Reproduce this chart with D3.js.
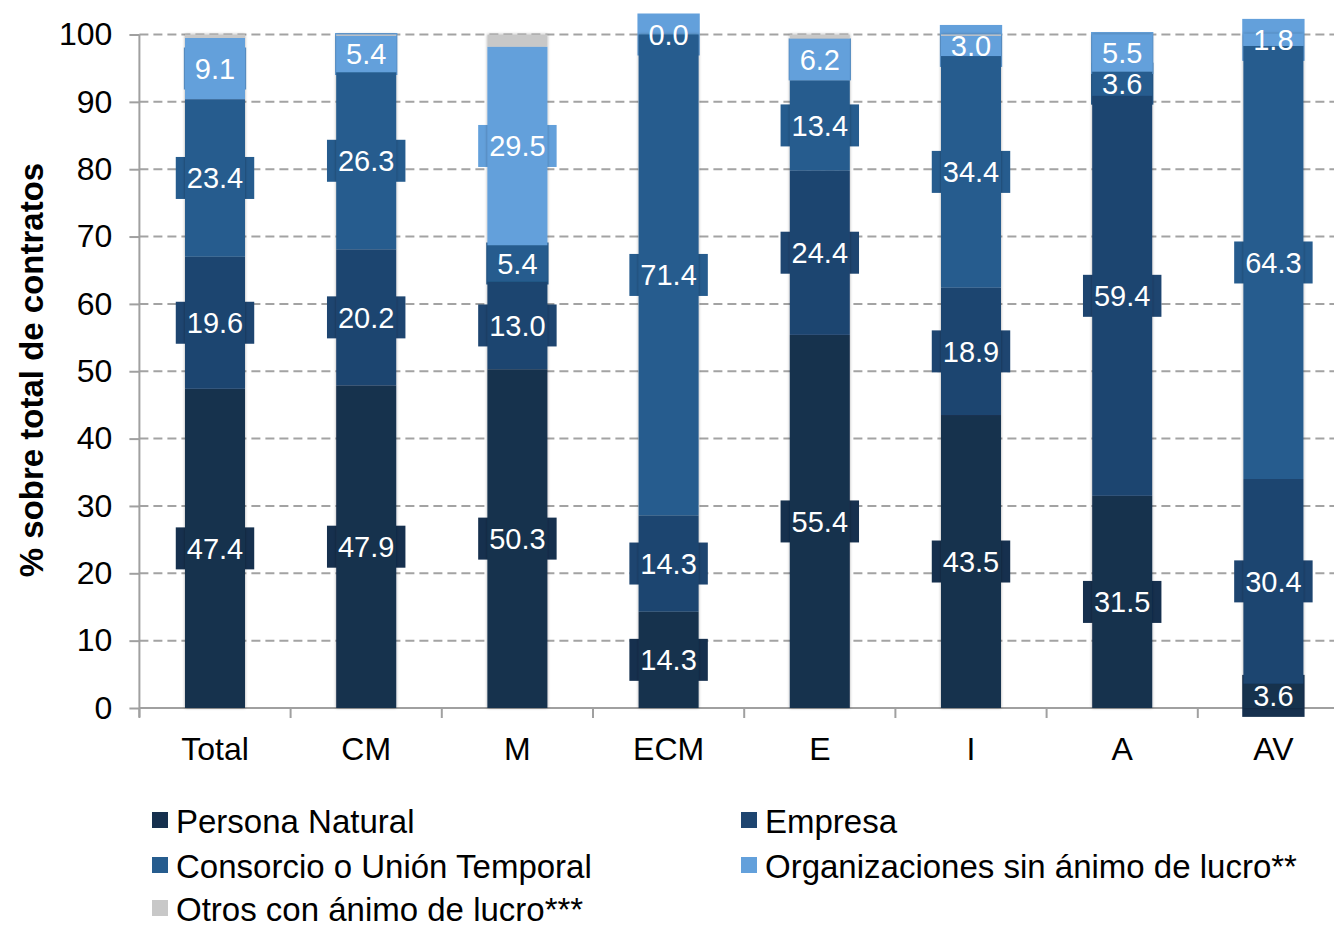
<!DOCTYPE html>
<html>
<head>
<meta charset="utf-8">
<script src="https://cdn.jsdelivr.net/npm/d3@7"></script>
<style>
  html, body { margin: 0; padding: 0; background: #fff; }
  svg { display: block; font-family: "Liberation Sans", Arial, Helvetica, sans-serif; }
</style>
</head>
<body>
<svg id="chart" width="1334" height="925"></svg>
<script>
// ---- data ----
const categories = ["Total", "CM", "M", "ECM", "E", "I", "A", "AV"];
const seriesNames = ["Persona Natural", "Empresa", "Consorcio o Unión Temporal", "Organizaciones sin ánimo de lucro**", "Otros con ánimo de lucro***"];
const personaNatural = [47.4, 47.9, 50.3, 14.3, 55.4, 43.5, 31.5, 3.6];
const empresa        = [19.6, 20.2, 13.0, 14.3, 24.4, 18.9, 59.4, 30.4];
const consorcio      = [23.4, 26.3, 5.4, 71.4, 13.4, 34.4, 3.6, 64.3];
const organizaciones = [9.1, 5.4, 29.5, 0.0, 6.2, 3.0, 5.5, 1.8];
const otros          = [0.5, 0.2, 1.8, 0.0, 0.6, 0.2, 0.0, 0.0];
const yTicks = [0, 10, 20, 30, 40, 50, 60, 70, 80, 90, 100];
const colors = ["#16304e", "#1e4570", "#265c8e", "#63a0db", "#c8c8c8"];
const labeledSeries = [true, true, true, true, false];

const seriesValues = [personaNatural, empresa, consorcio, organizaciones, otros];
const keys = ["pn", "emp", "con", "org", "otr"];
const table = categories.map((c, i) => {
  const row = { cat: c };
  keys.forEach((k, j) => row[k] = seriesValues[j][i]);
  return row;
});

const svg = d3.select("#chart");
const x = d3.scaleBand().domain(categories).range([139.4, 1349]).padding(0);
const y = d3.scaleLinear().domain([0, 100]).range([708, 34.5]);
const barW = 60;
const barX = c => x(c) + x.bandwidth() / 2 - barW / 2;

// defs: shadow
const defs = svg.append("defs");
const f = defs.append("filter").attr("id", "shadow").attr("x", "-20%").attr("y", "-5%").attr("width", "140%").attr("height", "110%");
f.append("feDropShadow").attr("dx", 0).attr("dy", 0).attr("stdDeviation", 1.6).attr("flood-color", "#000").attr("flood-opacity", 0.35);

// gridlines
svg.append("g").selectAll("line").data(yTicks.filter(t => t > 0)).join("line")
  .attr("x1", 139.4).attr("x2", 1334)
  .attr("y1", d => y(d)).attr("y2", d => y(d))
  .attr("stroke", "#a3a3a3").attr("stroke-width", 2).attr("stroke-dasharray", "9,5");

// y axis
const yAxis = svg.append("g").attr("transform", "translate(139.4,0)")
  .call(d3.axisLeft(y).tickValues(yTicks).tickSize(10).tickPadding(17).tickFormat(d3.format("d")));
yAxis.select(".domain").attr("stroke", "#a0a0a0").attr("stroke-width", 2).attr("d", `M0,${y(100)}V${y(0) + 9}`);
yAxis.selectAll(".tick line").attr("stroke", "#a0a0a0").attr("stroke-width", 2);
yAxis.selectAll(".tick text").attr("fill", "#000").style("font-size", "32px").attr("font-family", null);

// x axis
const xg = svg.append("g");
xg.append("line").attr("x1", 139.4).attr("x2", 1334).attr("y1", y(0)).attr("y2", y(0))
  .attr("stroke", "#a0a0a0").attr("stroke-width", 2);
const boundaries = categories.map(c => x(c)).concat([x(categories[categories.length - 1]) + x.step()]);
xg.selectAll("line.tk").data(boundaries.filter(b => b < 1334)).join("line").attr("class", "tk")
  .attr("x1", d => d).attr("x2", d => d).attr("y1", y(0)).attr("y2", y(0) + 10)
  .attr("stroke", "#a0a0a0").attr("stroke-width", 2);
xg.selectAll("text").data(categories).join("text")
  .attr("x", d => x(d) + x.bandwidth() / 2).attr("y", 749).attr("dy", "0.35em")
  .attr("text-anchor", "middle").style("font-size", "32px").attr("fill", "#000").text(d => d);

// stack
const stack = d3.stack().keys(keys)(table);

// label data
const labels = [];
stack.forEach((s, si) => {
  if (!labeledSeries[si]) return;
  s.forEach(d => {
    labels.push({ cat: d.data.cat, v: d.data[s.key], mid: (d[0] + d[1]) / 2, color: colors[si] });
  });
});

const labelFont = 29;
// layer order: label boxes, bars, label texts
const boxG = svg.append("g");
const barsG = svg.append("g");
const textG = svg.append("g");

categories.forEach(c => {
  const g = barsG.append("g").attr("filter", "url(#shadow)");
  stack.forEach((s, si) => {
    const d = s.find(e => e.data.cat === c);
    if (d[1] - d[0] <= 0) return;
    g.append("rect")
      .attr("x", barX(c)).attr("width", barW)
      .attr("y", y(d[1])).attr("height", y(d[0]) - y(d[1]))
      .attr("fill", colors[si]);
  });
});

labels.forEach(l => {
  const t = textG.append("text")
    .attr("x", x(l.cat) + x.bandwidth() / 2).attr("y", y(l.mid)).attr("dy", "0.36em")
    .attr("text-anchor", "middle").attr("fill", "#fff").style("font-size", labelFont + "px")
    .text(d3.format(".1f")(l.v));
  const w = t.node().getComputedTextLength();
  boxG.append("rect")
    .attr("x", x(l.cat) + x.bandwidth() / 2 - w / 2 - 11).attr("width", w + 22)
    .attr("y", y(l.mid) - 21).attr("height", 42)
    .attr("fill", l.color);
});

// axis title
svg.append("text")
  .attr("transform", "translate(31,370) rotate(-90)")
  .attr("text-anchor", "middle").attr("dy", "0.35em")
  .style("font-size", "33px").style("font-weight", "bold").attr("fill", "#000")
  .text("% sobre total de contratos");

// legend
const legendPos = [[152, 821], [741, 821], [152, 866], [741, 866], [152, 909]];
const lg = svg.append("g");
seriesNames.forEach((n, i) => {
  const [lx, ly] = legendPos[i];
  lg.append("rect").attr("x", lx).attr("y", ly - 9).attr("width", 16).attr("height", 16).attr("fill", colors[i]);
  lg.append("text").attr("x", lx + 24).attr("y", ly).attr("dy", "0.35em")
    .style("font-size", "33px").attr("fill", "#000").text(n);
});
</script>
</body>
</html>
